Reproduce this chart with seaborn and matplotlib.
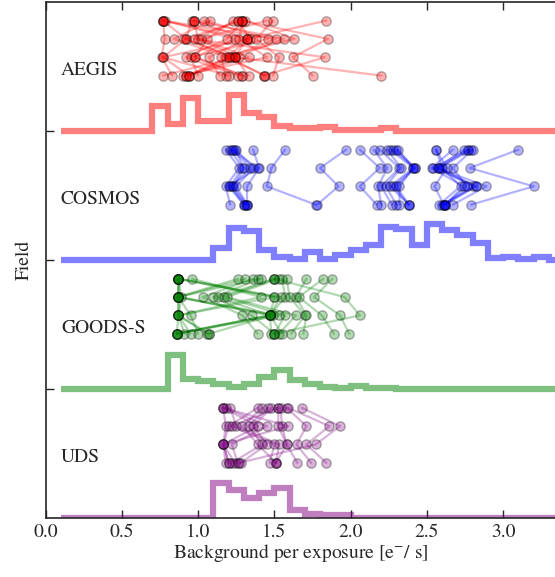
import numpy as np
import pandas as pd
import matplotlib
matplotlib.use("Agg")
import matplotlib.pyplot as plt
import seaborn as sns

# fields from bottom band to top band
fields = ["UDS", "GOODS-S", "COSMOS", "AEGIS"]
field_colors = ["purple", "green", "blue", "red"]

# background of the 4 exposures of each visit [e-/s]
aegis_visits = [
    [0.77, 0.92, 0.77, 0.94], [0.77, 1.32, 1.24, 0.77], [0.77, 0.78, 0.76, 0.83],
    [0.78, 1.24, 0.98, 1.29], [0.96, 0.92, 1.22, 0.92], [0.97, 1.32, 0.77, 1.20],
    [0.97, 1.00, 1.27, 0.94], [1.04, 1.46, 0.95, 1.00], [1.08, 0.84, 1.20, 1.43],
    [1.23, 1.06, 0.98, 1.29], [1.26, 1.34, 1.18, 1.44], [1.29, 0.91, 1.24, 1.33],
    [1.29, 1.27, 1.45, 0.90], [1.29, 1.19, 0.92, 1.26], [1.31, 1.63, 1.15, 1.18],
    [1.45, 1.02, 1.33, 0.92], [1.49, 1.38, 1.53, 1.49], [1.84, 1.32, 1.07, 1.14],
    [0.97, 1.56, 1.24, 2.20], [1.29, 1.85, 1.62, 1.75], [1.26, 0.97, 1.83, 1.43],
    [0.77, 1.51, 1.20, 0.94],
]
cosmos_visits = [
    [1.18, 1.27, 1.18, 1.21], [1.21, 1.29, 1.21, 1.30], [1.23, 1.34, 1.22, 1.31],
    [1.24, 1.30, 1.23, 1.32], [1.25, 1.36, 1.25, 1.32], [1.36, 1.40, 1.32, 1.32],
    [1.22, 1.39, 1.20, 1.30],
    [1.57, 1.48, 1.45, 1.77], [1.97, 1.80, 1.92, 1.78],
    [2.06, 2.19, 2.06, 2.17], [2.15, 2.24, 2.18, 2.20], [2.19, 2.32, 2.20, 2.27],
    [2.24, 2.33, 2.23, 2.30], [2.26, 2.41, 2.26, 2.38], [2.28, 2.42, 2.28, 2.38],
    [2.30, 2.42, 2.30, 2.38], [2.31, 2.41, 2.32, 2.32],
    [2.77, 2.58, 2.80, 2.61], [2.77, 2.54, 2.82, 2.62], [2.79, 2.58, 2.82, 2.60],
    [2.56, 2.63, 2.55, 2.61], [2.56, 2.60, 2.72, 2.58], [2.67, 2.53, 2.74, 2.62],
    [2.74, 2.57, 2.89, 2.67], [2.80, 2.67, 2.76, 2.62], [3.10, 2.78, 3.20, 2.79],
]
goodss_visits = [
    [0.87, 0.87, 0.87, 0.86], [0.87, 0.87, 0.87, 0.91], [0.87, 0.89, 0.87, 0.95],
    [0.87, 0.87, 0.95, 1.00], [0.87, 1.50, 0.87, 1.07], [0.96, 1.41, 0.87, 1.06],
    [0.87, 1.54, 1.47, 0.86], [1.26, 0.87, 1.47, 0.86], [1.31, 0.87, 1.49, 1.07],
    [1.36, 1.03, 1.29, 1.39], [1.39, 0.87, 1.53, 0.86], [1.41, 1.10, 1.35, 1.50],
    [1.50, 1.13, 1.47, 1.48], [1.50, 1.17, 1.57, 1.50], [1.53, 1.19, 1.64, 1.53],
    [1.55, 1.57, 1.47, 1.55], [1.58, 1.60, 1.70, 1.61], [1.71, 1.64, 1.71, 1.69],
    [1.82, 1.66, 1.81, 1.89], [1.88, 1.76, 1.93, 1.99], [1.50, 1.96, 2.06, 1.50],
    [0.87, 1.50, 1.47, 0.86],
]
uds_visits = [
    [1.165, 1.18, 1.165, 1.18], [1.165, 1.39, 1.165, 1.20], [1.18, 1.45, 1.22, 1.26],
    [1.21, 1.25, 1.53, 1.51], [1.39, 1.20, 1.165, 1.24], [1.42, 1.29, 1.39, 1.51],
    [1.46, 1.33, 1.42, 1.22], [1.48, 1.36, 1.45, 1.28], [1.525, 1.22, 1.50, 1.47],
    [1.525, 1.525, 1.58, 1.65], [1.54, 1.55, 1.58, 1.51], [1.58, 1.71, 1.645, 1.74],
    [1.59, 1.86, 1.71, 1.84], [1.68, 1.93, 1.77, 1.27], [1.165, 1.59, 1.165, 1.20],
]

# vertical offset of exposure 1..4 inside a band
exposure_offsets = [0.856, 0.714, 0.572, 0.43]

# step histograms, bins of 0.1 from 0.1 (heights in arbitrary units)
bin_edges = np.round(np.arange(0.1, 3.55, 0.1), 2)
aegis_hist = [0, 0, 0, 0, 0, 0, 25, 7, 33, 10, 10, 36, 18, 14, 5, 3, 3, 4,
              1, 1, 1, 3, 0, 0, 0, 0, 0, 0, 0, 0, 0, 0, 0, 0]
cosmos_hist = [0, 0, 0, 0, 0, 0, 0, 0, 0, 0, 12, 32, 29, 10, 3.5, 1, 8, 1,
               5, 10, 15, 33, 31, 15, 36, 30, 25, 17, 2.5, 3.3, 1, 3.3, 0, 0]
goodss_hist = [0, 0, 0, 0, 0, 0, 0, 34, 10.7, 8.3, 5.7, 2.3, 5, 12, 19.5, 9, 5, 2.3,
               1, 3, 1, 1, 0, 0, 0, 0, 0, 0, 0, 0, 0, 0, 0, 0]
uds_hist = [0, 0, 0, 0, 0, 0, 0, 0, 0, 0, 35, 28, 20, 25, 30, 8, 4, 3,
            3, 0, 0, 0, 0, 0, 0, 0, 0, 0, 0, 0, 0, 0, 0, 0]
hist_scale = 1.0 / 129

all_visits = [uds_visits, goodss_visits, cosmos_visits, aegis_visits]
all_hists = [uds_hist, goodss_hist, cosmos_hist, aegis_hist]

sns.set_style("ticks")
plt.rcParams["font.family"] = ["STIXGeneral", "DejaVu Serif"]
plt.rcParams["mathtext.fontset"] = "stix"
plt.rcParams["font.size"] = 14
plt.rcParams["axes.linewidth"] = 1.2

fig = plt.figure(figsize=(5.55, 5.77), dpi=100)
ax = fig.add_axes([45.7 / 555, 1 - 518.3 / 577, 1 - 45.7 / 555, 516.3 / 577])

for i, (name, color, visits, hist) in enumerate(zip(fields, field_colors, all_visits, all_hists)):
    rows = []
    for v, exps in enumerate(visits):
        for k, bg in enumerate(exps):
            rows.append({"visit": v, "bg": bg, "y": i + exposure_offsets[k]})
    df = pd.DataFrame(rows)

    sns.lineplot(data=df, x="bg", y="y", units="visit", estimator=None, sort=False,
                 color=color, alpha=0.3, lw=1.6, legend=False, ax=ax)
    sns.scatterplot(data=df, x="bg", y="y", color=color, alpha=0.3, edgecolor="k",
                    linewidth=1.0, s=45, legend=False, ax=ax, zorder=3)

    ax.stairs(np.array(hist) * hist_scale + i, bin_edges, baseline=i, color=color,
              alpha=0.5, lw=4.5)
    ax.text(0.1, i + 0.47, name, va="center", ha="left", fontsize=14)

ax.set_xlim(0, (555 - 45.7) / 152.5)
ax.set_ylim(0, 4)
ax.set_xticks([0.0, 0.5, 1.0, 1.5, 2.0, 2.5, 3.0])
ax.set_xticklabels(["0.0", "0.5", "1.0", "1.5", "2.0", "2.5", "3.0"])
ax.set_yticks([1, 2, 3])
ax.set_yticklabels([])
ax.tick_params(direction="in", length=6, width=1, top=True, right=False, pad=4)
ax.spines["right"].set_visible(False)
ax.set_xlabel("Background per exposure [e$^{-}$/ s]", fontsize=14, labelpad=1)
ax.set_ylabel("Field", fontsize=14, labelpad=5)

fig.savefig("out.png", dpi=100)
